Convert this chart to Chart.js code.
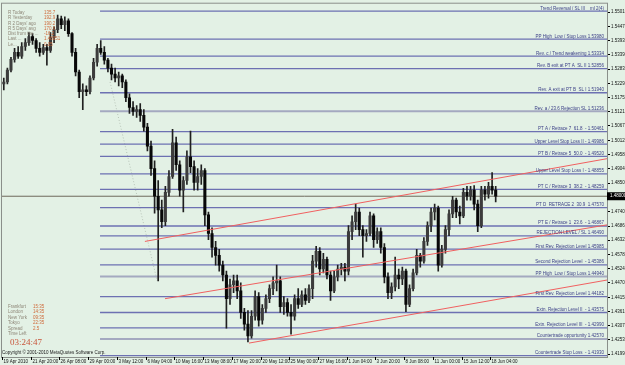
<!DOCTYPE html>
<html>
<head>
<meta charset="utf-8">
<script src="https://cdn.jsdelivr.net/npm/chart.js@4"></script>
<style>
html, body { margin: 0; padding: 0; background: #e3f1e5; }
#wrap { width: 625px; height: 365px; }
</style>
</head>
<body>
<div id="wrap"><canvas id="chart" width="625" height="365"></canvas></div>
<script>
// GBPUSD, 8h candles (index = bar number)
var barOpen = [
	1.5228, 1.5235, 1.5280, 1.5321, 1.5348, 1.5333, 1.5370, 1.5385, 1.5408, 1.5393,
	1.5363, 1.5348, 1.5366, 1.5355, 1.5404, 1.5434, 1.5475, 1.5453, 1.5468, 1.5419,
	1.5348, 1.5273, 1.5198, 1.5205, 1.5198, 1.5250, 1.5310, 1.5363, 1.5348, 1.5318,
	1.5288, 1.5265, 1.5250, 1.5258, 1.5235, 1.5175, 1.5138, 1.5123, 1.5130, 1.5108,
	1.5063, 1.4991, 1.4905, 1.4800, 1.4748, 1.4703, 1.4815, 1.4875, 1.5003, 1.4920,
	1.4823, 1.4860, 1.4950, 1.4913, 1.4853, 1.4875, 1.4898, 1.4729, 1.4658, 1.4605,
	1.4575, 1.4538, 1.4500, 1.4410, 1.4463, 1.4478, 1.4440, 1.4358, 1.4313, 1.4268,
	1.4343, 1.4418, 1.4328, 1.4373, 1.4410, 1.4448, 1.4470, 1.4478, 1.4380, 1.4395,
	1.4358, 1.4343, 1.4410, 1.4388, 1.4425, 1.4403, 1.4448, 1.4553, 1.4590, 1.4523,
	1.4560, 1.4500, 1.4440, 1.4493, 1.4523, 1.4530, 1.4515, 1.4665, 1.4703, 1.4740,
	1.4673, 1.4650, 1.4658, 1.4725, 1.4635, 1.4665, 1.4605, 1.4493, 1.4433, 1.4455,
	1.4500, 1.4485, 1.4515, 1.4388, 1.4448, 1.4508, 1.4575, 1.4553, 1.4628, 1.4688,
	1.4740, 1.4755, 1.4538, 1.4598, 1.4673, 1.4733, 1.4785, 1.4740, 1.4725, 1.4815,
	1.4800, 1.4823, 1.4770, 1.4688, 1.4823, 1.4808, 1.4838, 1.4823
];
var barHigh = [
	1.5250, 1.5288, 1.5329, 1.5363, 1.5370, 1.5385, 1.5400, 1.5423, 1.5419, 1.5400,
	1.5385, 1.5378, 1.5378, 1.5423, 1.5445, 1.5490, 1.5486, 1.5483, 1.5475, 1.5423,
	1.5363, 1.5280, 1.5228, 1.5220, 1.5258, 1.5325, 1.5378, 1.5393, 1.5370, 1.5325,
	1.5303, 1.5288, 1.5273, 1.5265, 1.5243, 1.5190, 1.5160, 1.5145, 1.5153, 1.5130,
	1.5078, 1.5010, 1.4935, 1.4860, 1.4785, 1.4838, 1.4898, 1.5055, 1.5025, 1.4935,
	1.4875, 1.4973, 1.5048, 1.4935, 1.4905, 1.4920, 1.4905, 1.4740, 1.4680, 1.4628,
	1.4598, 1.4553, 1.4515, 1.4485, 1.4500, 1.4500, 1.4470, 1.4373, 1.4365, 1.4365,
	1.4440, 1.4433, 1.4388, 1.4425, 1.4463, 1.4493, 1.4538, 1.4493, 1.4418, 1.4410,
	1.4388, 1.4425, 1.4448, 1.4440, 1.4448, 1.4463, 1.4575, 1.4609, 1.4605, 1.4583,
	1.4568, 1.4515, 1.4515, 1.4538, 1.4545, 1.4545, 1.4688, 1.4725, 1.4770, 1.4755,
	1.4688, 1.4673, 1.4740, 1.4733, 1.4680, 1.4680, 1.4620, 1.4508, 1.4470, 1.4568,
	1.4523, 1.4530, 1.4523, 1.4463, 1.4523, 1.4598, 1.4583, 1.4643, 1.4703, 1.4755,
	1.4770, 1.4763, 1.4613, 1.4688, 1.4748, 1.4800, 1.4793, 1.4763, 1.4830, 1.4838,
	1.4838, 1.4841, 1.4785, 1.4838, 1.4838, 1.4853, 1.4890, 1.4838
];
var barLow = [
	1.5205, 1.5228, 1.5273, 1.5310, 1.5325, 1.5325, 1.5355, 1.5374, 1.5378, 1.5348,
	1.5333, 1.5340, 1.5299, 1.5348, 1.5385, 1.5423, 1.5438, 1.5430, 1.5408, 1.5333,
	1.5258, 1.5175, 1.5130, 1.5183, 1.5190, 1.5243, 1.5295, 1.5340, 1.5303, 1.5273,
	1.5243, 1.5235, 1.5220, 1.5213, 1.5160, 1.5115, 1.5108, 1.5100, 1.5085, 1.5048,
	1.4973, 1.4879, 1.4736, 1.4478, 1.4680, 1.4688, 1.4800, 1.4868, 1.4898, 1.4800,
	1.4740, 1.4845, 1.4890, 1.4823, 1.4823, 1.4845, 1.4688, 1.4635, 1.4568, 1.4538,
	1.4515, 1.4478, 1.4298, 1.4388, 1.4433, 1.4410, 1.4335, 1.4290, 1.4245, 1.4260,
	1.4328, 1.4305, 1.4313, 1.4358, 1.4395, 1.4425, 1.4440, 1.4358, 1.4350, 1.4343,
	1.4275, 1.4328, 1.4373, 1.4380, 1.4388, 1.4395, 1.4410, 1.4530, 1.4500, 1.4508,
	1.4485, 1.4403, 1.4433, 1.4478, 1.4500, 1.4478, 1.4500, 1.4635, 1.4673, 1.4650,
	1.4568, 1.4628, 1.4650, 1.4605, 1.4620, 1.4583, 1.4470, 1.4410, 1.4410, 1.4440,
	1.4448, 1.4463, 1.4361, 1.4380, 1.4440, 1.4500, 1.4530, 1.4545, 1.4613, 1.4665,
	1.4710, 1.4515, 1.4530, 1.4583, 1.4650, 1.4718, 1.4718, 1.4695, 1.4718, 1.4785,
	1.4785, 1.4748, 1.4665, 1.4680, 1.4785, 1.4793, 1.4808, 1.4778
];
var barClose = [
	1.5235, 1.5280, 1.5321, 1.5348, 1.5333, 1.5370, 1.5385, 1.5408, 1.5393, 1.5363,
	1.5348, 1.5366, 1.5355, 1.5404, 1.5434, 1.5475, 1.5453, 1.5468, 1.5419, 1.5348,
	1.5273, 1.5198, 1.5205, 1.5198, 1.5250, 1.5310, 1.5363, 1.5348, 1.5318, 1.5288,
	1.5265, 1.5250, 1.5258, 1.5235, 1.5175, 1.5138, 1.5123, 1.5130, 1.5108, 1.5063,
	1.4991, 1.4905, 1.4800, 1.4748, 1.4703, 1.4815, 1.4875, 1.5003, 1.4920, 1.4823,
	1.4860, 1.4950, 1.4913, 1.4853, 1.4875, 1.4898, 1.4729, 1.4658, 1.4605, 1.4575,
	1.4538, 1.4500, 1.4410, 1.4463, 1.4478, 1.4440, 1.4358, 1.4313, 1.4268, 1.4343,
	1.4418, 1.4328, 1.4373, 1.4410, 1.4448, 1.4470, 1.4478, 1.4380, 1.4395, 1.4358,
	1.4343, 1.4410, 1.4388, 1.4425, 1.4403, 1.4448, 1.4553, 1.4590, 1.4523, 1.4560,
	1.4500, 1.4440, 1.4493, 1.4523, 1.4530, 1.4515, 1.4665, 1.4703, 1.4740, 1.4673,
	1.4650, 1.4658, 1.4725, 1.4635, 1.4665, 1.4605, 1.4493, 1.4433, 1.4455, 1.4500,
	1.4485, 1.4515, 1.4388, 1.4448, 1.4508, 1.4575, 1.4553, 1.4628, 1.4688, 1.4740,
	1.4755, 1.4538, 1.4598, 1.4673, 1.4733, 1.4785, 1.4740, 1.4725, 1.4815, 1.4800,
	1.4823, 1.4770, 1.4688, 1.4823, 1.4808, 1.4838, 1.4823, 1.4800
];

// time axis: one label every 8 bars
var timeLabels = ["19 Apr 2010", "21 Apr 20:00", "26 Apr 08:00", "29 Apr 00:00", "3 May 12:00", "6 May 04:00",
	"10 May 16:00", "13 May 08:00", "17 May 20:00", "20 May 12:00", "25 May 00:00", "27 May 16:00",
	"1 Jun 04:00", "3 Jun 20:00", "8 Jun 08:00", "11 Jun 00:00", "15 Jun 12:00", "18 Jun 04:00"];
var timeTickBars = [0, 8, 16, 24, 32, 40, 48, 56, 64, 72, 80, 88, 96, 104, 112, 120, 128, 136];

// price scale labels
var priceTicks = [1.55010, 1.54470, 1.53930, 1.53390, 1.52835, 1.52295, 1.51755, 1.51215, 1.50675, 1.50120,
	1.49580, 1.49040, 1.48500, 1.47405, 1.46865, 1.46325, 1.45785, 1.45245, 1.44705, 1.44150,
	1.43610, 1.43070, 1.42530, 1.41990];
var currentPrice = 1.4800;

// horizontal levels (start at bar 27)
var levelStartBar = 26.8;
var levelNames = ["Trend Reversal / SL III", "PP High  Low / Stop Loss ", "Rev. c / Trend weakening ",
	"Rev. B exit at PT A  SL II ", "Rev. A exit at PT B  SL I ", "Rev. a / 23.6 Rejection SL ",
	"PT A / Retrace 7  61.8  - ", "Upper Level Stop Loss II - ", "PT B / Retrace 5  50.0  - ",
	"Upper Level Stop Loss I - ", "PT C / Retrace 3  38.2  - ", "PT D  RETRACE 2  30.9  ",
	"PT E / Retrace 1  23.6  - ", "REJECTION LEVEL / SL ", "First Rev. Rejection Level ",
	"Second Rejection Level  - ", "PP High  Low / Stop Loss ", "First Rev. Rejection Level ",
	"Extn. Rejection Level II  - ", "Extn. Rejection Level III  - ", "Countertrade opportunity ",
	"Countertrade Stop Loss  - "];
var levelValues = [1.55050, 1.53980, 1.53334, 1.52856, 1.51940, 1.51236, 1.50461, 1.49986, 1.49520,
	1.48855, 1.48259, 1.47570, 1.46867, 1.46490, 1.45985, 1.45386, 1.44940, 1.44182, 1.43575,
	1.42990, 1.42570, 1.41930];

// channel lines: [bar, price] pairs
var channelUpper = [[39.3, 1.4628], [168, 1.4943]];
var channelMiddle = [[44.9, 1.4410], [168, 1.4691]];
var channelLower = [[68.3, 1.4241], [168, 1.4481]];
var dottedLine = [[29.6, 1.5235], [42.7, 1.4478]];

// info panels
var statNames = ["R Today", "R Yesterday", "R 2 Days' ago", "R 5 Days' avg", "Dist from the ...", "Last ...", "Le..."];
var statValues = ["135.7", "192.9", "190.2", "170.6", "-16.2", "1.48051", "0.05"];
var clockNames = ["Frankfurt", "London", "New York", "Tokyo", "Spread", "Time Left"];
var clockValues = ["15:35", "14:35", "09:35", "22:35", "2.5", ""];
var timeLeft = "03:24:47";
var copyrightText = "Copyright \u00a9 2001-2010 MetaQuotes Software Corp.";

var FONT = "'Liberation Sans', Arial, sans-serif";
var greyLevels = [5, 16, 20];

var seg = function(pts){
	return pts.map(function(p){ return {x: p[0], y: p[1]}; });
};

var datasets = [];
datasets.push({type: 'line', data: seg(channelUpper), borderColor: '#f06060', borderWidth: 1, pointRadius: 0, order: 0});
datasets.push({type: 'line', data: seg(channelMiddle), borderColor: '#f06060', borderWidth: 1, pointRadius: 0, order: 0});
datasets.push({type: 'line', data: seg(channelLower), borderColor: '#f06060', borderWidth: 1, pointRadius: 0, order: 0});

datasets.push({
	type: 'bar',
	data: barOpen.map(function(o, i){ return {x: i, y: [Math.min(o, barClose[i]), Math.max(o, barClose[i])]}; }),
	backgroundColor: barOpen.map(function(o, i){ return barClose[i] >= o ? '#3c3c3c' : '#080808'; }),
	barThickness: 2.4, grouped: false, minBarLength: 1, order: 1
});
datasets.push({
	type: 'bar',
	data: barLow.map(function(l, i){ return {x: i, y: [l, barHigh[i]]}; }),
	backgroundColor: '#202020',
	barThickness: 1, grouped: false, order: 2
});
datasets.push({type: 'line', data: [{x: -0.5, y: currentPrice}, {x: 168, y: currentPrice}], borderColor: '#6e6a5c', borderWidth: 1, pointRadius: 0, order: 3});
levelValues.forEach(function(v, i){
	var grey = greyLevels.indexOf(i) >= 0;
	datasets.push({type: 'line', data: [{x: levelStartBar, y: v}, {x: 168, y: v}],
		borderColor: grey ? '#a4a9c0' : '#6d71b2', borderWidth: grey ? 2 : 1.3, pointRadius: 0, order: 4});
});
datasets.push({type: 'line', data: seg(dottedLine), borderColor: '#b8c4b8', borderWidth: 1, borderDash: [1, 2], pointRadius: 0, order: 5});

var overlay = {
	id: 'overlay',
	beforeDraw: function(chart){
		var c = chart.ctx;
		c.save();
		c.fillStyle = '#e3f1e5';
		c.fillRect(0, 0, chart.width, chart.height);
		c.restore();
	},
	afterDraw: function(chart){
		var c = chart.ctx, a = chart.chartArea, ys = chart.scales.y, xs = chart.scales.x;
		c.save();
		// frame
		c.strokeStyle = '#8a8f8a';
		c.lineWidth = 1;
		c.strokeRect(a.left - 0.5, a.top - 0.5, a.right - a.left + 1, a.bottom - a.top + 1);

		// time axis labels, left aligned at their tick
		c.font = '4.5px ' + FONT;
		c.fillStyle = '#111';
		c.strokeStyle = '#000';
		c.textAlign = 'left';
		c.textBaseline = 'middle';
		timeTickBars.forEach(function(b, i){
			var x = Math.round(xs.getPixelForValue(b - 0.5)) + 0.5;
			c.beginPath();
			c.moveTo(x, a.bottom);
			c.lineTo(x, a.bottom + 3);
			c.stroke();
			c.fillText(timeLabels[i], x + 1, a.bottom + 4.5);
		});

		// level labels
		c.textAlign = 'right';
		c.textBaseline = 'bottom';
		c.fillStyle = '#3a3e86';
		levelValues.forEach(function(v, i){
			var y = ys.getPixelForValue(v);
			var txt = i === 0 ? levelNames[i] + '    ml 2(4)' : levelNames[i] + v.toFixed(5);
			c.fillText(txt, a.right - 3, y - 0.5);
		});

		// current price box
		var py = ys.getPixelForValue(currentPrice);
		c.fillStyle = '#000';
		c.fillRect(a.right, py - 4, chart.width - a.right, 8);
		c.fillStyle = '#fff';
		c.textAlign = 'left';
		c.textBaseline = 'middle';
		c.fillText(currentPrice.toFixed(5), a.right + 3, py);

		// stats panel
		statNames.forEach(function(n, i){
			var y = 12.7 + i * 5.3;
			c.fillStyle = '#8d8677';
			c.fillText(n, 8, y);
			c.fillStyle = '#cf6a3a';
			c.fillText(statValues[i], 44, y);
		});
		clockNames.forEach(function(n, i){
			var y = 306.7 + i * 5.4;
			c.fillStyle = '#8d8677';
			c.fillText(n, 8, y);
			c.fillStyle = '#cf6a3a';
			c.fillText(clockValues[i], 33, y);
		});
		c.font = "9px 'Liberation Serif', serif";
		c.fillStyle = '#c8553a';
		c.fillText(timeLeft, 10, 343);

		c.font = '4.5px ' + FONT;
		c.fillStyle = '#202020';
		c.fillText(copyrightText, 2, 352.5);
		c.restore();
	}
};

new Chart(document.getElementById('chart'), {
	type: 'bar',
	data: {datasets: datasets},
	options: {
		responsive: false,
		animation: false,
		devicePixelRatio: 1,
		layout: {autoPadding: false, padding: {top: 2, left: 2, right: 0, bottom: 0}},
		plugins: {legend: {display: false}, tooltip: {enabled: false}},
		scales: {
			x: {
				type: 'linear', min: -0.5, max: 168, offset: false,
				grid: {display: false},
				border: {display: false},
				afterBuildTicks: function(s){ s.ticks = timeTickBars.map(function(v){ return {value: v - 0.5}; }); },
				afterFit: function(s){ s.height = 8; },
				ticks: {display: false}
			},
			y: {
				type: 'linear', position: 'right', min: 1.4188, max: 1.5533,
				grid: {display: true, drawOnChartArea: false, drawTicks: true, tickLength: 3, color: '#000'},
				border: {display: false},
				afterBuildTicks: function(s){ s.ticks = priceTicks.map(function(v){ return {value: v}; }); },
				afterFit: function(s){ s.width = 18; },
				ticks: {
					padding: 1, color: '#111', font: {family: FONT, size: 4.5},
					callback: function(v){ return v.toFixed(5); }
				}
			}
		}
	},
	plugins: [overlay]
});
</script>
</body>
</html>
